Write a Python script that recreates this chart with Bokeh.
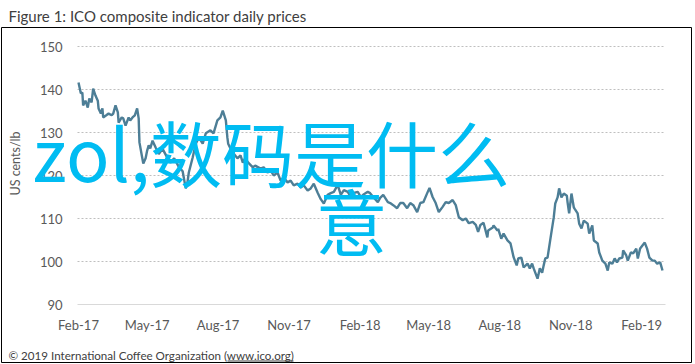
import pandas as pd
from math import pi
from bokeh.plotting import figure
from bokeh.models import (FixedTicker, DatetimeTickFormatter, Label, BoxAnnotation,
                          ColumnDataSource)
from bokeh.embed import file_html
from bokeh.resources import INLINE

# ---------------- data ----------------
dates = [
    "2017-02-01", "2017-02-04", "2017-02-06", "2017-02-07", "2017-02-10", "2017-02-13",
    "2017-02-15", "2017-02-18", "2017-02-20", "2017-02-23", "2017-02-26", "2017-02-27",
    "2017-03-02", "2017-03-04", "2017-03-05", "2017-03-09", "2017-03-12", "2017-03-16",
    "2017-03-18", "2017-03-21", "2017-03-24", "2017-03-25", "2017-03-29", "2017-03-31",
    "2017-04-03", "2017-04-07", "2017-04-09", "2017-04-12", "2017-04-15", "2017-04-18",
    "2017-04-20", "2017-04-21", "2017-04-24", "2017-04-26", "2017-04-29", "2017-05-01",
    "2017-05-03", "2017-05-05", "2017-05-08", "2017-05-12", "2017-05-16", "2017-05-21",
    "2017-05-26", "2017-05-31", "2017-06-05", "2017-06-11", "2017-06-16", "2017-06-20",
    "2017-06-22", "2017-06-24", "2017-06-29", "2017-07-03", "2017-07-07", "2017-07-12",
    "2017-07-16", "2017-07-22", "2017-07-26", "2017-07-31", "2017-08-04", "2017-08-07",
    "2017-08-11", "2017-08-13", "2017-08-14", "2017-08-17", "2017-08-21", "2017-08-26",
    "2017-08-30", "2017-09-02", "2017-09-05", "2017-09-09", "2017-09-15", "2017-09-18",
    "2017-09-25", "2017-09-29", "2017-10-04", "2017-10-08", "2017-10-12", "2017-10-17",
    "2017-10-21", "2017-10-25", "2017-10-30", "2017-11-03", "2017-11-07", "2017-11-12",
    "2017-11-16", "2017-11-20", "2017-11-25", "2017-11-29", "2017-12-03", "2017-12-08",
    "2017-12-12", "2017-12-16", "2017-12-21", "2017-12-25", "2017-12-29", "2018-01-03",
    "2018-01-07", "2018-01-11", "2018-01-16", "2018-01-20", "2018-01-23", "2018-01-29",
    "2018-02-02", "2018-02-05", "2018-02-11", "2018-02-14", "2018-02-18", "2018-02-24",
    "2018-02-27", "2018-03-03", "2018-03-09", "2018-03-12", "2018-03-16", "2018-03-21",
    "2018-03-25", "2018-03-29", "2018-04-03", "2018-04-07", "2018-04-11", "2018-04-16",
    "2018-04-20", "2018-04-24", "2018-04-29", "2018-05-02", "2018-05-06", "2018-05-10",
    "2018-05-14", "2018-05-19", "2018-05-23", "2018-05-27", "2018-06-01", "2018-06-05",
    "2018-06-09", "2018-06-14", "2018-06-18", "2018-06-22", "2018-06-27", "2018-07-01",
    "2018-07-04", "2018-07-07", "2018-07-11", "2018-07-16", "2018-07-17", "2018-07-23",
    "2018-07-24", "2018-07-29", "2018-07-30", "2018-08-03", "2018-08-06", "2018-08-11",
    "2018-08-15", "2018-08-19", "2018-08-23", "2018-08-25", "2018-08-29", "2018-09-01",
    "2018-09-06", "2018-09-09", "2018-09-12", "2018-09-14", "2018-09-19", "2018-09-22",
    "2018-09-25", "2018-09-27", "2018-09-29", "2018-10-02", "2018-10-06", "2018-10-10",
    "2018-10-12", "2018-10-15", "2018-10-17", "2018-10-20", "2018-10-23", "2018-10-27",
    "2018-10-28", "2018-10-30", "2018-11-02", "2018-11-05", "2018-11-06", "2018-11-10",
    "2018-11-12", "2018-11-15", "2018-11-18", "2018-11-23", "2018-11-25", "2018-11-29",
    "2018-12-01", "2018-12-06", "2018-12-08", "2018-12-12", "2018-12-16", "2018-12-19",
    "2018-12-21", "2018-12-25", "2018-12-28", "2018-12-31", "2019-01-03", "2019-01-07",
    "2019-01-08", "2019-01-12", "2019-01-14", "2019-01-18", "2019-01-21", "2019-01-25",
    "2019-01-27", "2019-01-30", "2019-02-02", "2019-02-05", "2019-02-08", "2019-02-11",
    "2019-02-15", "2019-02-18", "2019-02-21", "2019-02-25", "2019-02-28",
]

prices = [
    141.6, 139.1, 139.3, 136.3, 137.4, 135.8,
    137.9, 137.0, 140.2, 138.6, 137.4, 135.6,
    134.4, 135.6, 133.5, 134.0, 134.4, 134.0,
    134.4, 136.3, 134.7, 132.3, 133.5, 133.3,
    131.6, 133.5, 132.8, 133.5, 134.0, 135.6,
    133.3, 127.7, 124.7, 122.8, 124.0, 125.8,
    127.0, 126.3, 128.1, 126.5, 125.0, 126.2,
    124.5, 123.0, 124.0, 122.0, 121.0, 117.0,
    118.1, 120.7, 124.2, 127.4, 128.8, 127.4,
    129.8, 130.5, 129.8, 132.8, 133.5, 135.1,
    132.8, 128.8, 127.4, 126.3, 125.1, 124.0,
    124.7, 123.0, 124.0, 123.0, 121.9, 122.3,
    121.6, 121.9, 120.7, 121.2, 120.0, 120.7,
    118.8, 119.5, 118.4, 118.8, 117.7, 118.1,
    117.2, 117.7, 116.5, 117.0, 118.1, 116.0,
    114.5, 113.5, 115.5, 115.9, 116.2, 117.8,
    115.5, 116.6, 116.2, 115.0, 115.9, 116.2,
    115.0, 115.5, 116.2, 115.9, 115.0, 113.8,
    114.8, 115.5, 113.8, 113.6, 113.1, 112.4,
    113.6, 113.6, 112.4, 113.6, 113.1, 111.5,
    113.6, 113.8, 115.9, 117.1, 115.0, 113.6,
    111.5, 112.7, 113.8, 113.6, 114.3, 113.1,
    110.3, 109.6, 110.0, 108.9, 109.2, 108.5,
    106.9, 108.5, 109.0, 105.6, 107.2, 107.9,
    108.4, 107.2, 107.6, 105.3, 106.5, 104.9,
    104.2, 101.0, 99.1, 100.7, 100.9, 98.6,
    99.5, 98.4, 99.5, 98.4, 96.0, 98.4,
    97.4, 99.1, 100.7, 100.9, 105.6, 110.2,
    113.5, 114.9, 117.0, 114.9, 115.8, 115.3,
    113.7, 111.2, 115.8, 112.6, 112.3, 111.2,
    108.8, 107.7, 109.5, 108.8, 106.5, 108.4,
    104.9, 104.2, 102.1, 100.2, 99.5, 97.9,
    99.8, 99.5, 100.7, 99.8, 100.7, 100.9,
    102.6, 101.4, 100.2, 102.1, 101.9, 103.0,
    100.7, 103.0, 103.7, 104.4, 103.0, 100.9,
    100.2, 100.2, 99.5, 99.8, 97.9,
]

tick_dates = ["2017-02-01", "2017-05-01", "2017-08-01", "2017-11-01", "2018-02-01",
              "2018-05-01", "2018-08-01", "2018-11-01", "2019-02-01"]
y_ticks = [90, 100, 110, 120, 130, 140, 150]
grid_values = [100, 110, 120, 130, 140, 150]

title_text = "Figure 1: ICO composite indicator daily prices"
y_label_text = "US cents/lb"
footer_text = "\u00a9 2019 International Coffee Organization (www.ico.org)"
wm_line1 = "zol,数码是什么"
wm_line2 = "意"

# ---------------- layout helpers (pixel -> data) ----------------
T0 = pd.Timestamp("2017-02-01").value / 1e6          # ms
MS_PER_PX = 757 * 86400000 / 584                      # x scale
PX_PER_UNIT = 4.3                                     # y scale


def X(cx):
    return T0 + (cx - 78) * MS_PER_PX


def Y(cy):
    return 150 - (cy - 46) / PX_PER_UNIT


FONT = "Lato"
GREY_TXT = "#595959"

src = ColumnDataSource(dict(date=pd.to_datetime(dates), price=prices))

p = figure(width=695, height=364, x_axis_type="datetime",
           x_range=(X(1), X(691)), y_range=(Y(362), Y(27)),
           output_backend="svg", toolbar_location=None,
           min_border_left=1, min_border_right=4,
           min_border_top=27, min_border_bottom=2,
           background_fill_color="white", border_fill_color="white",
           title=title_text)
p.outline_line_color = "black"
p.outline_line_width = 1

p.title.text_font = FONT
p.title.text_font_size = "15px"
p.title.text_font_style = "normal"
p.title.text_color = "#404040"
p.title.align = "left"
p.title.offset = 7
p.title.standoff = 5

# gridlines (dotted) over the plotting span only
p.segment(x0=[X(77)] * len(grid_values), x1=[X(665)] * len(grid_values),
          y0=grid_values, y1=grid_values,
          line_color="#BFBFBF", line_dash="2 2", line_width=1)
p.xgrid.grid_line_color = None
p.ygrid.grid_line_color = None

p.line("date", "price", source=src, line_color="#4D7E96", line_width=2.4)

# x axis
xa = p.xaxis[0]
xa.fixed_location = 90
xa.bounds = (X(77), X(665))
xa.ticker = FixedTicker(ticks=[pd.Timestamp(d).value / 1e6 for d in tick_dates])
fmt = "%b-%y"
xa.formatter = DatetimeTickFormatter(milliseconds=fmt, seconds=fmt, minsec=fmt,
                                     minutes=fmt, hourmin=fmt, hours=fmt, days=fmt,
                                     months=fmt, years=fmt)
xa.axis_line_color = "#D9D9D9"
xa.axis_line_width = 1
xa.major_tick_line_color = None
xa.minor_tick_line_color = None
xa.major_label_standoff = 6
xa.major_label_text_font = FONT
xa.major_label_text_font_size = "13px"
xa.major_label_text_color = GREY_TXT

# y axis
ya = p.yaxis[0]
ya.fixed_location = X(77)
ya.ticker = FixedTicker(ticks=y_ticks)
ya.axis_line_color = None
ya.major_tick_line_color = None
ya.minor_tick_line_color = None
ya.major_label_standoff = 9
ya.major_label_text_font = FONT
ya.major_label_text_font_size = "13px"
ya.major_label_text_color = GREY_TXT

# y-axis title
p.add_layout(Label(x=X(15), y=Y(163), text=y_label_text, text_font=FONT,
                   text_font_size="12.5px", text_color=GREY_TXT, angle=pi / 2,
                   text_align="center", text_baseline="middle"))

# footer
p.add_layout(Label(x=X(8), y=Y(355), text=footer_text, text_font=FONT,
                   text_font_size="11.6px", text_color="#404040",
                   text_baseline="middle", text_align="left"))
p.add_layout(BoxAnnotation(left=X(227), right=X(293), top=Y(360), bottom=Y(360.9),
                           fill_color="#404040", fill_alpha=1, line_color=None,
                           level="overlay"))

# watermark
WM = "#00BCF2"
p.add_layout(Label(x=X(32), y=Y(150), text=wm_line1, text_font="Noto Sans CJK SC",
                   text_font_size="72px", text_color=WM, text_baseline="alphabetic",
                   text_align="left", level="overlay"))
p.add_layout(Label(x=X(315), y=Y(218), text=wm_line2, text_font="Noto Sans CJK SC",
                   text_font_size="72px", text_color=WM, text_baseline="alphabetic",
                   text_align="left", level="overlay"))

open("out.html", "w").write(file_html(p, INLINE))
